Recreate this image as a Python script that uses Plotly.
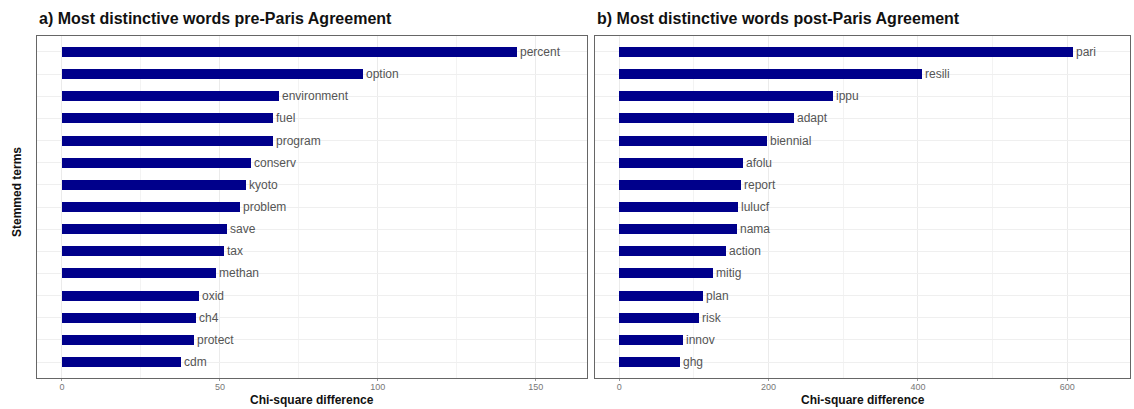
import plotly.graph_objects as go

# Chi-square differences of stemmed terms, pre- and post-Paris Agreement
pre_terms = ["percent", "option", "environment", "fuel", "program", "conserv", "kyoto",
             "problem", "save", "tax", "methan", "oxid", "ch4", "protect", "cdm"]
pre_values = [144.0, 95.4, 68.7, 66.9, 66.7, 59.7, 58.3, 56.3, 52.1, 51.4, 48.8, 43.5, 42.3, 41.7, 37.7]

post_terms = ["pari", "resili", "ippu", "adapt", "biennial", "afolu", "report", "lulucf",
              "nama", "action", "mitig", "plan", "risk", "innov", "ghg"]
post_values = [608.0, 404.8, 286.2, 234.6, 197.4, 165.7, 163.5, 159.5, 157.6, 142.5,
               126.0, 112.1, 106.3, 84.9, 81.2]

pre_ticks = [0, 50, 100, 150]
post_ticks = [0, 200, 400, 600]

panel_titles = ["a) Most distinctive words pre-Paris Agreement",
                "b) Most distinctive words post-Paris Agreement"]
x_title = "Chi-square difference"
y_title = "Stemmed terms"

FONT = "Arial, Liberation Sans, sans-serif"
BAR = "#00008B"
W, H = 1134, 409
ML, MR, MT, MB = 37, 4, 36, 31
pw = W - ML - MR
dom1 = [0, (587 - ML) / pw]
dom2 = [(595 - ML) / pw, 1]

fig = go.Figure()

for vals, terms, xa, ya in [(pre_values, pre_terms, "x", "y"),
                            (post_values, post_terms, "x2", "y2")]:
    fig.add_trace(go.Bar(
        x=vals, y=terms, orientation="h", xaxis=xa, yaxis=ya,
        marker=dict(color=BAR, line=dict(width=0)), width=0.45,
        text=terms, textposition="outside", cliponaxis=False, constraintext="none",
        textfont=dict(family=FONT, size=12, color="#555555"),
        hoverinfo="x+y", showlegend=False,
    ))

n = len(pre_terms)
pad = 0.72


def xaxis(domain, rng, ticks, anchor):
    step = ticks[1] - ticks[0]
    return dict(
        domain=domain, range=rng, anchor=anchor,
        tickmode="array", tickvals=ticks, ticktext=[str(t) for t in ticks],
        tickfont=dict(family=FONT, size=9, color="#777777"),
        ticks="outside", ticklen=2, tickcolor="#999999", ticklabelstandoff=-2,
        showgrid=True, gridcolor="#ebebeb", gridwidth=1,
        minor=dict(tickmode="array",
                   tickvals=[t + step / 2 for t in ticks],
                   showgrid=True, gridcolor="#f3f3f3", gridwidth=1, ticks=""),
        zeroline=False, showline=True, linecolor="#666666", linewidth=1, mirror=True,
        fixedrange=True,
    )


def yaxis(cats, anchor):
    return dict(
        domain=[0, 1], anchor=anchor, type="category",
        categoryorder="array", categoryarray=cats,
        range=[n - 1 + pad, -pad],
        showticklabels=False, ticks="",
        showgrid=True, gridcolor="#efefef", gridwidth=1,
        zeroline=False, showline=True, linecolor="#666666", linewidth=1, mirror=True,
        fixedrange=True,
    )


fig.update_layout(
    width=W, height=H,
    margin=dict(l=ML, r=MR, t=MT, b=MB),
    paper_bgcolor="white", plot_bgcolor="white",
    bargap=0,
    xaxis=xaxis(dom1, [-7.9, 166.2], pre_ticks, "y"),
    yaxis=yaxis(pre_terms, "x"),
    xaxis2=xaxis(dom2, [-32.4, 684], post_ticks, "y2"),
    yaxis2=yaxis(post_terms, "x2"),
    font=dict(family=FONT),
)

annotations = []
for dom, title in zip([dom1, dom2], panel_titles):
    annotations.append(dict(
        text=f"<b>{title}</b>", xref="paper", yref="paper",
        x=dom[0], y=1, yshift=18, xanchor="left", yanchor="middle",
        showarrow=False, font=dict(family=FONT, size=16, color="#111111"),
    ))
    annotations.append(dict(
        text=f"<b>{x_title}</b>", xref="paper", yref="paper",
        x=(dom[0] + dom[1]) / 2, y=0, yshift=-22, xanchor="center", yanchor="middle",
        showarrow=False, font=dict(family=FONT, size=12, color="#111111"),
    ))
annotations.append(dict(
    text=f"<b>{y_title}</b>", xref="paper", yref="paper",
    x=0, xshift=-20, y=(H - MT - 187) / (H - MT - MB), xanchor="center", yanchor="middle",
    textangle=-90, showarrow=False, font=dict(family=FONT, size=12, color="#111111"),
))
fig.update_layout(annotations=annotations)

fig.write_html("out.html")
